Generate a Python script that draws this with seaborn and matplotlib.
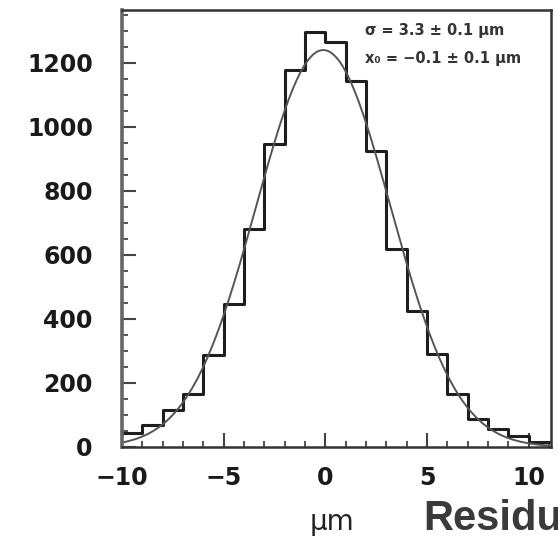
import numpy as np
import pandas as pd
import matplotlib
matplotlib.use("Agg")
import matplotlib.pyplot as plt
import seaborn as sns
from matplotlib.ticker import MultipleLocator

# ---- data ----
bin_edges = [-10, -9, -8, -7, -6, -5, -4, -3, -2, -1, 0, 1, 2, 3, 4, 5, 6, 7, 8, 9, 10, 11]
counts = [45, 68, 114, 165, 288, 447, 681, 947, 1179, 1297, 1265,
          1142, 924, 617, 425, 291, 165, 86, 57, 33, 16]

# gaussian fit parameters (amplitude, mean, sigma)
fit_amp = 1240
fit_mean = -0.1
fit_sigma = 3.3

stat_lines = ["σ = 3.3 ± 0.1 μm", "x₀ = −0.1 ± 0.1 μm"]
x_label = "μm"
side_title = "Residu"

centers = [(a + b) / 2 for a, b in zip(bin_edges[:-1], bin_edges[1:])]
df_hist = pd.DataFrame({"x": centers, "n": counts})

xs = np.linspace(bin_edges[0], bin_edges[-1], 400)
df_fit = pd.DataFrame({"x": xs,
                       "y": fit_amp * np.exp(-0.5 * ((xs - fit_mean) / fit_sigma) ** 2)})

sns.set_theme(style="white")
plt.rcParams["font.family"] = ["DejaVu Sans"]
plt.rcParams["axes.unicode_minus"] = True

fig = plt.figure(figsize=(5.58, 5.41), dpi=100)
ax = fig.add_axes([0.2186, 0.1738, 0.7689, 0.8077])

sns.histplot(data=df_hist, x="x", weights="n", bins=bin_edges, element="step",
             fill=False, color="#1e1e1e", linewidth=2.2, ax=ax)
sns.lineplot(data=df_fit, x="x", y="y", color="#555555", linewidth=1.4, ax=ax)

ax.set_xlim(-10, 11.1)
ax.set_ylim(0, 1365)
ax.xaxis.set_major_locator(MultipleLocator(5))
ax.xaxis.set_minor_locator(MultipleLocator(1))
ax.yaxis.set_major_locator(MultipleLocator(200))
ax.yaxis.set_minor_locator(MultipleLocator(50))

ax.tick_params(axis="both", which="major", direction="in", length=10, width=1.5,
               color="#444444", labelsize=17, bottom=True, left=True, top=False, right=False)
ax.tick_params(axis="both", which="minor", direction="in", length=4.5, width=1.3,
               color="#444444", bottom=True, left=True, top=False, right=False)
ax.tick_params(axis="y", which="major", pad=21)
ax.tick_params(axis="x", which="major", pad=14)
for lab in ax.get_xticklabels() + ax.get_yticklabels():
    lab.set_fontweight("bold")
    lab.set_color("#1a1a1a")

for sp in ax.spines.values():
    sp.set_visible(True)
    sp.set_color("#333333")
    sp.set_linewidth(1.8)
ax.spines["left"].set_color("#666666")
ax.spines["left"].set_linewidth(2.6)

ax.set_ylabel("")
ax.set_xlabel("")
fig.text(332 / 558, 1 - 530 / 541, x_label, fontsize=20, color="#222222",
         ha="center", va="baseline")

ax.text(0.566, 0.952, stat_lines[0], transform=ax.transAxes, fontsize=10.5,
        fontweight="bold", color="#333333", va="center")
ax.text(0.566, 0.890, stat_lines[1], transform=ax.transAxes, fontsize=10.5,
        fontweight="bold", color="#333333", va="center")

fig.text(423 / 558, 1 - 530 / 541, side_title, fontsize=30, fontweight="bold",
         family=["Liberation Sans", "DejaVu Sans"],
         color="#3a3a3a", ha="left", va="baseline")

fig.savefig("out.png", dpi=100)
